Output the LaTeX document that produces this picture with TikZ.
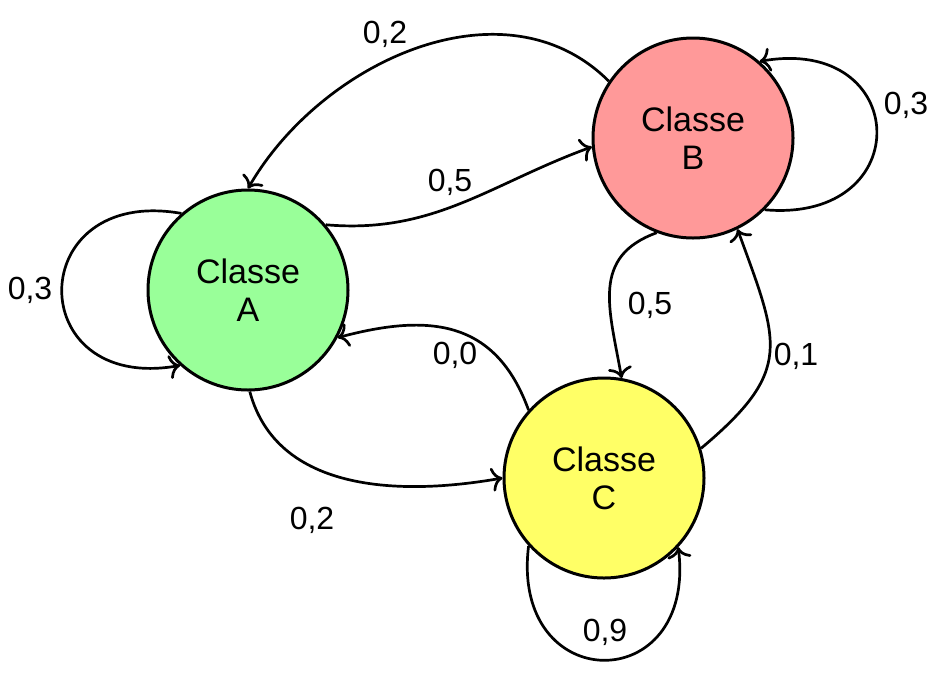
\documentclass[tikz,border=0pt]{standalone}
\usepackage{fontspec}
\setmainfont{Liberation Sans}
\usetikzlibrary{arrows.meta}
\begin{document}
\begin{tikzpicture}
        [x=1pt, y=-1pt,
        node/.style={circle, draw, line width=3pt, minimum size=200pt, inner sep=0pt, align=center, font=\fontsize{34}{38}\selectfont},
        edge/.style={line width=2.7pt, black, -{To[length=11pt,width=24pt]}},
        weight/.style={font=\fontsize{32}{36}\selectfont}]

        \useasboundingbox (0,0) rectangle (944,681);

        \node[node, fill={rgb,255:red,153;green,255;blue,153}] (a) at (248,290) {Classe\\A};
        \node[node, fill={rgb,255:red,255;green,153;blue,153}] (b) at (693,138) {Classe\\B};
        \node[node, fill={rgb,255:red,255;green,255;blue,102}] (c) at (604,478) {Classe\\C};

        % transitions between classes
        \draw[edge] (b.146) to[out=135, in=60] (a.90);
        \draw[edge] (a.40) to[out=-5, in=200] (b.185);
        \draw[edge] (c.138) to[out=110, in=15, looseness=1.2] (a.-28);
        \draw[edge] (a.-89) to[out=-75, in=190] (c.180);
        \draw[edge] (b.-111) to[out=200, in=100, looseness=1.2] (c.80);
        \draw[edge] (c.17) to[out=40, in=-70, looseness=1.4] (b.-64);

        % self loops
        \draw[edge] (a.131) to[out=170, in=190, looseness=2.7] (a.-132);
        \draw[edge] (b.-45) to[out=-5, in=10, looseness=2.65] (b.49);
        \draw[edge] (c.-138) to[out=-97, in=-83, looseness=2.6] (c.-43);

        % weights
        \node[weight] (w_ba) at (385,34) {0,2};
        \node[weight] (w_ab) at (450,182) {0,5};
        \node[weight] (w_ca) at (455,355) {0,0};
        \node[weight] (w_ac) at (312,520) {0,2};
        \node[weight] (w_bc) at (650,305) {0,5};
        \node[weight] (w_cb) at (796,356) {0,1};
        \node[weight] (w_aa) at (30,290) {0,3};
        \node[weight] (w_bb) at (906,105) {0,3};
        \node[weight] (w_cc) at (605,632) {0,9};

\end{tikzpicture}
\end{document}
